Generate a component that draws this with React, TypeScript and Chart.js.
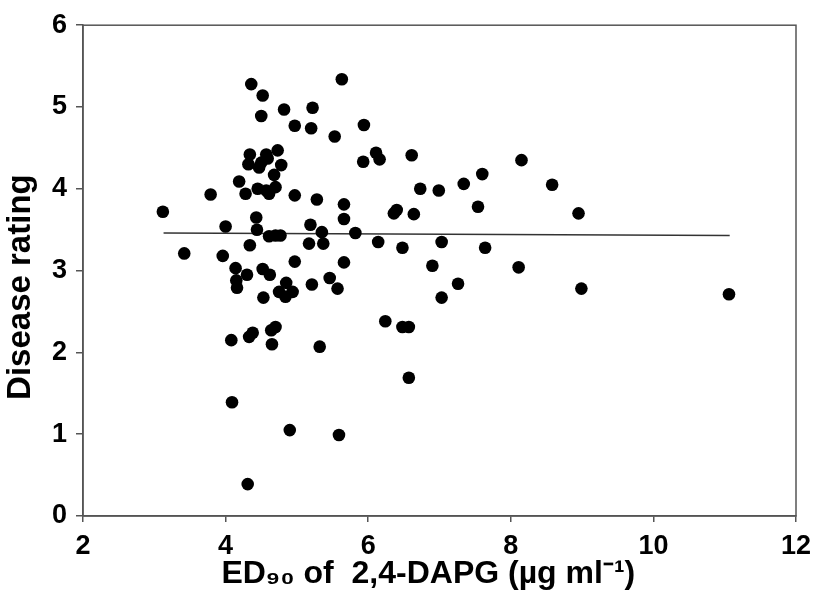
import { useEffect, useRef } from "react";
import { Chart, registerables } from "chart.js";

Chart.register(...registerables);

const ed90 = [
  3.12, 3.42, 3.79, 3.96, 4.0, 4.08, 4.09, 4.14, 4.15, 4.16, 4.19, 4.28, 4.3, 4.31, 4.32, 4.33, 4.34, 4.34,
  4.36, 4.38, 4.43, 4.44, 4.45, 4.47, 4.5, 4.5, 4.52, 4.52, 4.53, 4.57, 4.57, 4.59, 4.61, 4.61, 4.62, 4.64,
  4.65, 4.68, 4.7, 4.7, 4.7, 4.73, 4.75, 4.77, 4.78, 4.82, 4.84, 4.85, 4.9, 4.94, 4.97, 4.97, 4.97, 5.17,
  5.19, 5.2, 5.21, 5.22, 5.28, 5.32, 5.35, 5.37, 5.46, 5.53, 5.57, 5.59, 5.63, 5.66, 5.66, 5.66, 5.82, 5.93,
  5.94, 6.11, 6.14, 6.16, 6.24, 6.36, 6.4, 6.48, 6.48, 6.57, 6.57, 6.61, 6.64, 6.73, 6.9, 6.99, 7.03, 7.03,
  7.26, 7.34, 7.54, 7.6, 7.64, 8.11, 8.15, 8.58, 8.95, 8.99, 11.06,
];

const rating = [
  3.72, 3.21, 3.93, 3.18, 3.54, 2.15, 1.39, 3.03, 2.88, 2.79, 4.09, 3.94, 2.95, 0.39, 4.3, 2.19, 4.42, 3.31,
  5.28, 2.24, 3.65, 3.5, 4.0, 4.26, 4.32, 4.89, 5.14, 3.02, 2.67, 4.42, 3.98, 4.37, 3.94, 3.42, 2.95, 2.27,
  2.1, 4.17, 4.02, 3.43, 2.31, 4.47, 2.74, 3.43, 4.29, 4.97, 2.68, 2.85, 1.05, 2.74, 4.77, 3.92, 3.11, 3.33,
  3.56, 4.74, 2.83, 4.99, 3.87, 2.07, 3.47, 3.33, 2.91, 4.64, 2.78, 0.99, 5.34, 3.81, 3.63, 3.1, 3.46, 4.33,
  4.78, 4.44, 3.35, 4.36, 2.38, 3.7, 3.74, 3.28, 2.31, 2.31, 1.69, 4.41, 3.69, 4.0, 3.06, 3.98, 3.35, 2.67,
  2.84, 4.06, 3.78, 4.18, 3.28, 3.04, 4.35, 4.05, 3.7, 2.78, 2.71,
];

const fitX = [3.13, 11.07];
const fitY = [3.46, 3.43];

const xTicks = [2, 4, 6, 8, 10, 12];
const yTicks = [0, 1, 2, 3, 4, 5, 6];

const xTitle = "ED₉₀ of  2,4-DAPG (µg ml⁻¹)";
const yTitle = "Disease rating";

const FONT = "'Liberation Sans', Arial, sans-serif";

const boxPlugin = {
  id: "box",
  afterDraw(chart: any) {
    const { ctx, chartArea } = chart;
    ctx.save();
    ctx.strokeStyle = "#555";
    ctx.lineWidth = 1.5;
    ctx.strokeRect(chartArea.left, chartArea.top, chartArea.right - chartArea.left, chartArea.bottom - chartArea.top);
    ctx.restore();
  },
};

export default function App() {
  const ref = useRef<HTMLCanvasElement>(null);

  useEffect(() => {
    document.body.style.margin = "0";
    const canvas = ref.current;
    if (!canvas) return;
    const chart = new Chart(canvas, {
      type: "scatter",
      data: {
        datasets: [
          {
            type: "line",
            data: fitX.map((x, i) => ({ x, y: fitY[i] })),
            borderColor: "#333",
            borderWidth: 1.5,
            pointRadius: 0,
            fill: false,
            order: 2,
          } as any,
          {
            data: ed90.map((x, i) => ({ x, y: rating[i] })),
            backgroundColor: "#000",
            borderColor: "#000",
            borderWidth: 0,
            pointRadius: 6.3,
            order: 1,
          },
        ],
      },
      options: {
        responsive: false,
        animation: false,
        layout: { padding: { top: 16, right: 26, left: 0, bottom: 0 } },
        plugins: { legend: { display: false }, tooltip: { enabled: false } },
        scales: {
          x: {
            type: "linear",
            min: 2,
            max: 12,
            afterBuildTicks: (s: any) => {
              s.ticks = xTicks.map((v) => ({ value: v }));
            },
            afterFit: (s: any) => {
              s.height = 87;
            },
            grid: { drawOnChartArea: false, tickLength: 6, color: "#555", lineWidth: 1.5 },
            border: { color: "#555", width: 1.5 },
            ticks: { color: "#000", padding: 8, font: { family: FONT, size: 27, weight: "bold" } },
            title: {
              display: true,
              text: xTitle + "\u2002\u2009",
              color: "#000",
              padding: { top: 10, bottom: 10 },
              font: { family: FONT, size: 32, weight: "bold" },
            },
          },
          y: {
            type: "linear",
            min: 0,
            max: 6,
            afterBuildTicks: (s: any) => {
              s.ticks = yTicks.map((v) => ({ value: v }));
            },
            afterFit: (s: any) => {
              s.width = 83;
            },
            grid: { drawOnChartArea: false, tickLength: 7, color: "#555", lineWidth: 1.5 },
            border: { color: "#555", width: 1.5 },
            ticks: { color: "#000", padding: 9, font: { family: FONT, size: 27, weight: "bold" } },
            title: {
              display: true,
              text: yTitle + "\u2002\u2002",
              color: "#000",
              padding: { top: 1, bottom: 1 },
              font: { family: FONT, size: 33, weight: "bold" },
            },
          },
        },
      },
      plugins: [boxPlugin],
    });
    return () => chart.destroy();
  }, []);

  return (
    <div style={{ position: "absolute", left: 0, top: 0, width: 822, height: 603, background: "#fff" }}>
      <canvas ref={ref} width={822} height={603} style={{ display: "block" }} />
    </div>
  );
}
